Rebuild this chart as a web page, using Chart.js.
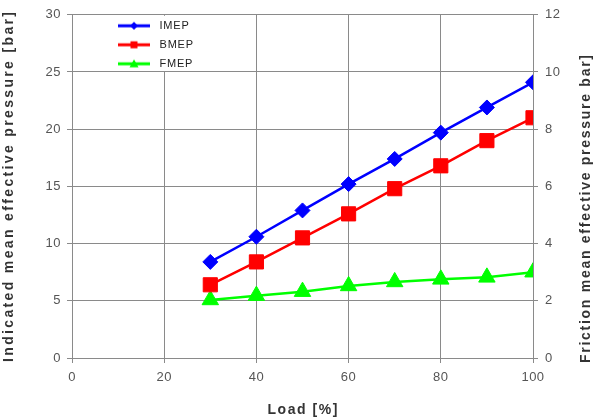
<!DOCTYPE html>
<html>
<head>
<meta charset="utf-8">
<script src="https://cdn.jsdelivr.net/npm/chart.js@4/dist/chart.umd.min.js"></script>
<style>
html,body{margin:0;padding:0;background:#fff;}
#wrap{width:595px;height:419px;position:relative;}
canvas{display:block;}
</style>
</head>
<body>
<div id="wrap"><canvas id="c" width="595" height="419"></canvas></div>
<script>
// ---- data ----
const loads = [30, 40, 50, 60, 70, 80, 90, 100];
const imep  = [8.4, 10.6, 12.9, 15.2, 17.4, 19.7, 21.9, 24.1];
const bmep  = [6.4, 8.4, 10.5, 12.6, 14.8, 16.8, 19.0, 21.0];
const fmep  = [2.03, 2.18, 2.32, 2.52, 2.66, 2.75, 2.82, 3.0];
const seriesNames = ['IMEP', 'BMEP', 'FMEP'];
const xTitle  = 'Load [%]';
const yTitle  = 'Indicated mean effective pressure [bar]';
const y1Title = 'Friction mean effective pressure bar]';

const FONT = "'Liberation Sans', Arial, Helvetica, sans-serif";
const BLUE = '#0000ff', RED = '#ff0000', GREEN = '#00ff00';

function pairs(xs, ys) { return xs.map((x, i) => ({ x: x, y: ys[i] })); }

function makeIcon(color, shape) {
  const c = document.createElement('canvas');
  c.width = 32; c.height = 12;
  const g = c.getContext('2d');
  g.strokeStyle = color; g.lineWidth = 3;
  g.beginPath(); g.moveTo(0, 6); g.lineTo(32, 6); g.stroke();
  g.fillStyle = color; g.beginPath();
  if (shape === 'diamond') { g.moveTo(16, 2); g.lineTo(20, 6); g.lineTo(16, 10); g.lineTo(12, 6); }
  else if (shape === 'square') { g.rect(12.5, 2.5, 7, 7); }
  else { g.moveTo(16, 1.5); g.lineTo(20.5, 9.5); g.lineTo(11.5, 9.5); }
  g.closePath(); g.fill();
  return c;
}
const legendIcons = [makeIcon(BLUE, 'diamond'), makeIcon(RED, 'square'), makeIcon(GREEN, 'triangle')];

function drawTitle(ctx, text, cx, cy, rot, target) {
  ctx.save();
  ctx.font = 'bold 14px ' + FONT;
  ctx.letterSpacing = '0px';
  const nat = ctx.measureText(text).width;
  const ls = Math.max(0, (target - nat) / (text.length - 1));
  ctx.letterSpacing = ls + 'px';
  ctx.translate(cx, cy);
  ctx.rotate(rot);
  ctx.fillStyle = '#333';
  ctx.textAlign = 'left';
  ctx.textBaseline = 'middle';
  ctx.fillText(text, -target / 2, 0);
  ctx.restore();
}

const decor = {
  id: 'decor',
  afterLayout(chart) {
    const a = chart.chartArea;
    chart.legend.left = a.left + 34;
    chart.legend.top = a.top - 2.5;
  },
  beforeDraw(chart) {
    chart.ctx.letterSpacing = '0.5px';
  },
  beforeDatasetsDraw(chart) {
    const ctx = chart.ctx, a = chart.chartArea;
    const xr = chart.scales.x.getPixelForValue(40);
    const yb = chart.scales.y.getPixelForValue(25);
    ctx.save();
    ctx.fillStyle = '#ffffff';
    ctx.fillRect(a.left + 1, a.top + 1, xr - a.left - 2, yb - a.top - 2);
    ctx.letterSpacing = '0.8px';
    chart.legend.draw();
    ctx.restore();
  },
  afterDraw(chart) {
    const ctx = chart.ctx, a = chart.chartArea;
    ctx.letterSpacing = '0px';
    drawTitle(ctx, yTitle, 9, 187, -Math.PI / 2, 350);
    drawTitle(ctx, y1Title, 586.5, 209, -Math.PI / 2, 308);
    drawTitle(ctx, xTitle, (a.left + a.right) / 2, 410.5, 0, 70);
  }
};

const gridColor = '#8a8a8a';
const tickFont = { family: FONT, size: 13 };

new Chart(document.getElementById('c'), {
  type: 'line',
  data: {
    datasets: [
      { label: seriesNames[0], data: pairs(loads, imep), yAxisID: 'y',
        borderColor: BLUE, backgroundColor: BLUE, borderWidth: 2.5,
        pointStyle: 'rectRot', pointRadius: 7.5, pointBorderWidth: 1,
        pointBackgroundColor: BLUE, pointBorderColor: BLUE },
      { label: seriesNames[1], data: pairs(loads, bmep), yAxisID: 'y',
        borderColor: RED, backgroundColor: RED, borderWidth: 2.5,
        pointStyle: 'rect', pointRadius: 10, pointBorderWidth: 1,
        pointBackgroundColor: RED, pointBorderColor: RED },
      { label: seriesNames[2], data: pairs(loads, fmep), yAxisID: 'y1',
        borderColor: GREEN, backgroundColor: GREEN, borderWidth: 2.5,
        pointStyle: 'triangle', pointRadius: 9.5, pointBorderWidth: 1,
        pointBackgroundColor: GREEN, pointBorderColor: GREEN }
    ]
  },
  options: {
    responsive: false,
    animation: false,
    devicePixelRatio: 1,
    layout: { padding: { top: 3, left: 0, right: 0, bottom: 0 } },
    elements: { line: { tension: 0 } },
    plugins: {
      tooltip: { enabled: false },
      legend: {
        position: 'chartArea',
        align: 'start',
        labels: {
          usePointStyle: true,
          pointStyleWidth: 40,
          boxHeight: 11,
          padding: 8,
          color: '#222',
          font: { family: FONT, size: 11 },
          generateLabels(chart) {
            return chart.data.datasets.map((ds, i) => ({
              text: ds.label, pointStyle: legendIcons[i],
              fillStyle: ds.borderColor, strokeStyle: ds.borderColor,
              lineWidth: 0, hidden: false, datasetIndex: i, fontColor: '#222'
            }));
          }
        }
      }
    },
    scales: {
      x: {
        type: 'linear', min: 0, max: 100,
        ticks: { stepSize: 20, color: '#555', font: tickFont, padding: 7 },
        grid: { color: gridColor, tickLength: 5 },
        border: { color: gridColor },
        afterFit(s) { s.height = 61; }
      },
      y: {
        type: 'linear', position: 'left', min: 0, max: 30,
        ticks: { stepSize: 5, color: '#555', font: tickFont, padding: 6 },
        grid: { color: gridColor, tickLength: 5 },
        border: { color: gridColor },
        afterFit(s) { s.width = 72; }
      },
      y1: {
        type: 'linear', position: 'right', min: 0, max: 12,
        ticks: { stepSize: 2, color: '#555', font: tickFont, padding: 7 },
        grid: { color: gridColor, tickLength: 5, drawOnChartArea: false },
        border: { color: gridColor },
        afterFit(s) { s.width = 62; }
      }
    }
  },
  plugins: [decor]
});
</script>
</body>
</html>
